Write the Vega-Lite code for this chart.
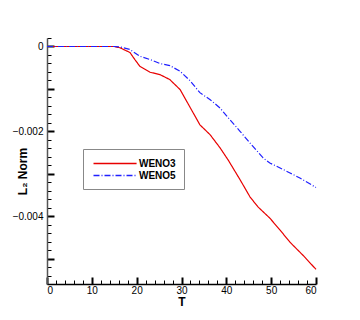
{
  "$schema": "https://vega.github.io/schema/vega-lite/v6.json",
  "width": 269,
  "height": 246,
  "autosize": {"type": "none"},
  "padding": {"left": 47, "top": 38, "right": 44, "bottom": 36},
  "background": "white",
  "config": {
    "view": {"stroke": null},
    "font": "Liberation Sans",
    "axis": {"grid": false, "labelFont": "Liberation Sans", "labelFontSize": 10, "labelColor": "black", "titleFont": "Liberation Sans", "titleColor": "black", "domainColor": "black", "tickColor": "black"}
  },
  "data": {"values": [
    {"T": 0, "v": 0, "s": "WENO3"},
    {"T": 14, "v": 0, "s": "WENO3"},
    {"T": 15, "v": 0, "s": "WENO3"},
    {"T": 16.3, "v": -0.000031, "s": "WENO3"},
    {"T": 18.5, "v": -0.000142, "s": "WENO3"},
    {"T": 19.6, "v": -0.000308, "s": "WENO3"},
    {"T": 20.7, "v": -0.000466, "s": "WENO3"},
    {"T": 23.0, "v": -0.000608, "s": "WENO3"},
    {"T": 25.2, "v": -0.000663, "s": "WENO3"},
    {"T": 27.4, "v": -0.000781, "s": "WENO3"},
    {"T": 29.7, "v": -0.001018, "s": "WENO3"},
    {"T": 31.9, "v": -0.001432, "s": "WENO3"},
    {"T": 34.1, "v": -0.001846, "s": "WENO3"},
    {"T": 36.4, "v": -0.002083, "s": "WENO3"},
    {"T": 38.6, "v": -0.00239, "s": "WENO3"},
    {"T": 40.4, "v": -0.002675, "s": "WENO3"},
    {"T": 43.1, "v": -0.003148, "s": "WENO3"},
    {"T": 45.3, "v": -0.00355, "s": "WENO3"},
    {"T": 47.1, "v": -0.003787, "s": "WENO3"},
    {"T": 49.7, "v": -0.004047, "s": "WENO3"},
    {"T": 52.0, "v": -0.004331, "s": "WENO3"},
    {"T": 54.2, "v": -0.004615, "s": "WENO3"},
    {"T": 57.1, "v": -0.004923, "s": "WENO3"},
    {"T": 60, "v": -0.005255, "s": "WENO3"},
    {"T": 0, "v": 0, "s": "WENO5"},
    {"T": 15, "v": 0, "s": "WENO5"},
    {"T": 16.3, "v": -0.00001, "s": "WENO5"},
    {"T": 18.5, "v": -0.000071, "s": "WENO5"},
    {"T": 20.7, "v": -0.00023, "s": "WENO5"},
    {"T": 23.0, "v": -0.000308, "s": "WENO5"},
    {"T": 25.2, "v": -0.000402, "s": "WENO5"},
    {"T": 27.4, "v": -0.00045, "s": "WENO5"},
    {"T": 29.7, "v": -0.000585, "s": "WENO5"},
    {"T": 31.9, "v": -0.000805, "s": "WENO5"},
    {"T": 34.1, "v": -0.001089, "s": "WENO5"},
    {"T": 36.4, "v": -0.001254, "s": "WENO5"},
    {"T": 38.6, "v": -0.001451, "s": "WENO5"},
    {"T": 40.8, "v": -0.001728, "s": "WENO5"},
    {"T": 43.1, "v": -0.002005, "s": "WENO5"},
    {"T": 45.3, "v": -0.002279, "s": "WENO5"},
    {"T": 48.2, "v": -0.002627, "s": "WENO5"},
    {"T": 49.7, "v": -0.002746, "s": "WENO5"},
    {"T": 52.0, "v": -0.002864, "s": "WENO5"},
    {"T": 54.2, "v": -0.002982, "s": "WENO5"},
    {"T": 56.4, "v": -0.003101, "s": "WENO5"},
    {"T": 60, "v": -0.003325, "s": "WENO5"}
  ]},
  "encoding": {
    "x": {"field": "T", "type": "quantitative", "scale": {"domain": [0, 60], "nice": false, "zero": false}},
    "y": {"field": "v", "type": "quantitative", "scale": {"domain": [-0.0056, 0.0002], "nice": false, "zero": false}},
    "color": {"field": "s", "type": "nominal", "scale": {"domain": ["WENO3", "WENO5"], "range": ["#e80000", "#2020ff"]},
      "legend": {"orient": "none", "legendX": 36, "legendY": 111, "title": null, "strokeColor": "#888", "fillColor": "white", "padding": 8, "symbolType": "M0,0H8", "symbolSize": 116, "symbolOffset": -4, "symbolStrokeWidth": 1.5, "labelFontSize": 10, "labelOffset": 39, "rowPadding": 0, "labelFont": "Liberation Sans", "labelFontWeight": "bold", "labelColor": "black"}},
    "strokeDash": {"field": "s", "type": "nominal", "scale": {"domain": ["WENO3", "WENO5"], "range": [[1, 0], [6, 2, 1, 2]]},
      "legend": {"orient": "none", "legendX": 36, "legendY": 111, "title": null, "strokeColor": "#888", "fillColor": "white", "padding": 8, "symbolType": "M0,0H8", "symbolSize": 116, "symbolOffset": -4, "symbolStrokeWidth": 1.5, "labelFontSize": 10, "labelOffset": 39, "rowPadding": 0, "labelFont": "Liberation Sans", "labelFontWeight": "bold", "labelColor": "black"}}
  },
  "layer": [
    {
      "transform": [{"filter": "datum.s === 'WENO3'"}],
      "mark": {"type": "line", "strokeWidth": 1.2, "clip": false},
      "encoding": {
        "x": {"field": "T", "type": "quantitative",
          "axis": {"orient": "bottom", "values": [0, 10, 20, 30, 40, 50, 60], "tickSize": -7, "tickWidth": 2, "tickColor": "black", "labels": false, "domain": false, "title": null}},
        "y": {"field": "v", "type": "quantitative",
          "axis": {"orient": "left", "values": [0, -0.001, -0.002, -0.003, -0.004, -0.005], "tickSize": -7, "tickWidth": 2, "tickColor": "black", "labels": false, "domain": false, "title": null}}
      }
    },
    {
      "transform": [{"filter": "datum.s === 'WENO5'"}],
      "mark": {"type": "line", "strokeWidth": 1.2, "clip": false},
      "encoding": {
        "x": {"field": "T", "type": "quantitative",
          "axis": {"orient": "bottom", "values": [2,4,6,8,12,14,16,18,22,24,26,28,32,34,36,38,42,44,46,48,52,54,56,58], "tickSize": -4, "tickWidth": 1, "tickColor": "black", "labels": false, "domain": false, "title": null}},
        "y": {"field": "v", "type": "quantitative",
          "axis": {"orient": "left", "values": [0.0002, -0.0002, -0.0004, -0.0006, -0.0008, -0.0012, -0.0014, -0.0016, -0.0018, -0.0022, -0.0024, -0.0026, -0.0028, -0.0032, -0.0034, -0.0036, -0.0038, -0.0042, -0.0044, -0.0046, -0.0048, -0.0052, -0.0054, -0.0056], "tickSize": -4, "tickWidth": 1, "tickColor": "black", "labels": false, "domain": false, "title": null}}
      }
    },
    {
      "mark": {"type": "point", "opacity": 0, "size": 1},
      "encoding": {
        "x": {"field": "T", "type": "quantitative",
          "axis": {"orient": "bottom", "values": [0, 10, 20, 30, 40, 50, 60], "ticks": false, "tickSize": 0, "labelPadding": 1, "title": "T", "titleFontSize": 12, "titleFontWeight": "bold", "titleBaseline": "top", "titleAlign": "center", "titleY": 12, "domainWidth": 1.5}},
        "y": {"field": "v", "type": "quantitative",
          "axis": {"orient": "left", "values": [0, -0.002, -0.004], "labelExpr": "datum.value == 0 ? '0' : format(datum.value, '.3f')", "ticks": false, "tickSize": 0, "labelPadding": 4, "title": "L₂ Norm", "titleFontSize": 12, "titleFontWeight": "bold", "titleBaseline": "middle", "titleAlign": "center", "titleAngle": -90, "titleX": -25, "titleY": 133, "domainWidth": 1.5, "domainColor": "#555"}}
      }
    }
  ],
  "resolve": {"axis": {"x": "independent", "y": "independent"}}
}
